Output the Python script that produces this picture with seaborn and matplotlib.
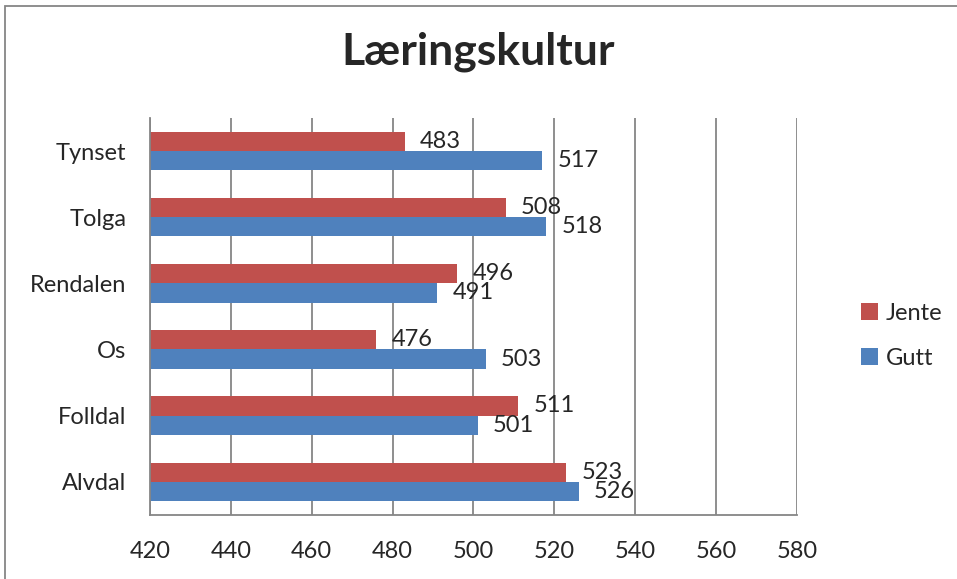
import matplotlib
matplotlib.use("Agg")
import matplotlib.pyplot as plt
import seaborn as sns
import pandas as pd
from matplotlib.patches import Rectangle

# data, top to bottom as in the chart
skoler = ["Tynset", "Tolga", "Rendalen", "Os", "Folldal", "Alvdal"]
jente = [483, 508, 496, 476, 511, 523]
gutt = [517, 518, 491, 503, 501, 526]
grupper = ["Jente", "Gutt"]
farger = {"Jente": "#C0504D", "Gutt": "#4F81BD"}
x_ticks = [420, 440, 460, 480, 500, 520, 540, 560, 580]

df = pd.DataFrame({
    "skole": skoler * 2,
    "verdi": jente + gutt,
    "kjonn": ["Jente"] * len(skoler) + ["Gutt"] * len(skoler),
})

sns.set_style("white")
plt.rcParams["font.family"] = ["Lato", "DejaVu Sans"]

fig = plt.figure(figsize=(9.57, 5.79), dpi=100)
ax = fig.add_axes([0.1567, 0.111, 0.6761, 0.685])

sns.barplot(data=df, y="skole", x="verdi", hue="kjonn", order=skoler,
            hue_order=grupper, palette=farger, orient="h", width=0.58,
            saturation=1, linewidth=0, ax=ax, legend=True)

ax.set_xlim(420, 580)
ax.set_xticks(x_ticks)
ax.set_xlabel("")
ax.set_ylabel("")
ax.grid(axis="x", color="#868686", linewidth=1.3)
ax.set_axisbelow(True)
for side in ["top", "right"]:
    ax.spines[side].set_visible(False)
for side in ["left", "bottom"]:
    ax.spines[side].set_color("#868686")
    ax.spines[side].set_linewidth(1.3)
ax.tick_params(axis="x", labelsize=17, pad=19, length=0)
ax.tick_params(axis="y", labelsize=17, pad=17, length=0)

# dataetiketter
for cont in ax.containers:
    ax.bar_label(cont, fmt="%d", padding=11, fontsize=17)

ax.legend(loc="center left", bbox_to_anchor=(0.9, 0.42),
          bbox_transform=fig.transFigure, frameon=False, fontsize=17,
          handlelength=0.7, handleheight=0.7, handletextpad=0.35,
          labelspacing=1.0, borderpad=0, borderaxespad=0)

fig.suptitle("Læringskultur", fontsize=32, fontweight="bold", y=0.945)

# ramme rundt diagrammet
fig.patches.append(Rectangle((0.005, -0.1), 1.2, 1.09, transform=fig.transFigure,
                             fill=False, edgecolor="#868686", linewidth=1.3))

fig.savefig("out.png", dpi=100)
